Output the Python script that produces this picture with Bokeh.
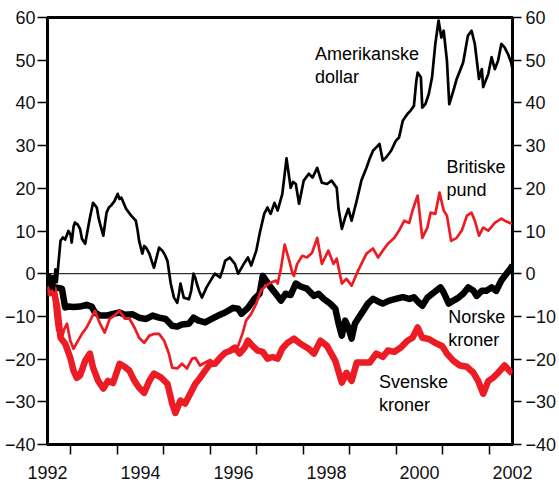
from bokeh.plotting import figure
from bokeh.models import FixedTicker, LinearAxis, Span, Label
from bokeh.embed import file_html
from bokeh.resources import INLINE

# ---------------- data ----------------
usd_x = [1992.00, 1992.03, 1992.07, 1992.10, 1992.13, 1992.17, 1992.20, 1992.24, 1992.28, 1992.33,
         1992.38, 1992.45, 1992.50, 1992.52, 1992.56, 1992.59, 1992.65, 1992.70, 1992.74, 1992.81,
         1992.86, 1992.91, 1992.98, 1993.06, 1993.10, 1993.13, 1993.20, 1993.24, 1993.27, 1993.32,
         1993.37, 1993.44, 1993.51, 1993.55, 1993.59, 1993.64, 1993.69, 1993.80, 1993.85, 1993.90,
         1993.94, 1993.97, 1994.04, 1994.08, 1994.12, 1994.19, 1994.24, 1994.29, 1994.35, 1994.40,
         1994.47, 1994.52, 1994.58, 1994.65, 1994.72, 1994.79, 1994.83, 1994.86, 1994.93, 1995.04,
         1995.09, 1995.14, 1995.18, 1995.21, 1995.26, 1995.32, 1995.42, 1995.53, 1995.60, 1995.71,
         1995.77, 1995.82, 1995.92, 1996.03, 1996.10, 1996.20, 1996.31, 1996.38, 1996.49, 1996.56,
         1996.66, 1996.73, 1996.80, 1996.88, 1996.95, 1997.05, 1997.14, 1997.23, 1997.28, 1997.34,
         1997.41, 1997.51, 1997.62, 1997.70, 1997.80, 1997.90, 1998.01, 1998.11, 1998.22, 1998.26,
         1998.33, 1998.40, 1998.47, 1998.54, 1998.65, 1998.75, 1998.86, 1998.93, 1999.00, 1999.07,
         1999.14, 1999.21, 1999.28, 1999.39, 1999.49, 1999.56, 1999.64, 1999.74, 1999.81, 1999.88,
         1999.93, 1999.96, 2000.03, 2000.06, 2000.13, 2000.20, 2000.27, 2000.34, 2000.41, 2000.47,
         2000.52, 2000.59, 2000.64, 2000.73, 2000.80, 2000.87, 2000.94, 2001.04, 2001.12, 2001.19,
         2001.28, 2001.34, 2001.37, 2001.48, 2001.55, 2001.62, 2001.69, 2001.76, 2001.83, 2001.90,
         2001.97, 2002.00]
usd_y = [0, -1, -4.5, -2, -4, 1, -2, 3, 7.7, 8.5,
         8, 10, 9, 7.3, 11, 12, 11.5, 10.5, 8.2, 7,
         10, 13, 16.6, 15.5, 13, 11.7, 8.9, 12, 14.3, 15.5,
         16, 17, 18.7, 17.5, 17.8, 16.5, 15.2, 13.6, 13, 12.4,
         10, 7.7, 4.7, 6.5, 6.1, 4.7, 3, 1.4, 4, 6.1,
         5.4, 4.5, 3, -2.3, -5.6, -6.8, -4.5, -2.3, -5.6, -6,
         -4, 0, -1, -2.3, -4, -5.6, -3.2, -1.2, 0, -0.9,
         1, 3, 3.8, 2.3, 0, 1.9, 3.8, 1.9, 5.4, 9.3,
         14, 15.5, 14, 16.6, 14.8, 18.7, 27, 20.1, 21.5, 21,
         16.4, 21.8, 23.4, 22.5, 24.8, 21.3, 21, 21.8, 20.1, 15.2,
         10.5, 13.1, 15.2, 12.4, 17.1, 21.8, 24.8, 27, 28.8, 29.6,
         30.4, 26.5, 27.2, 28.8, 31.1, 31.9, 35.8, 37.4, 38.2, 39.3,
         45, 47.1, 46, 38.9, 39.8, 42.1, 46, 53.8, 59.3, 55.3,
         56.9, 49.9, 39.7, 42.9, 45.6, 47.5, 49.5, 55.7, 56.9, 53.8,
         45.6, 47.9, 43.7, 46.8, 50.7, 47.9, 49.9, 53.8, 53, 51.5,
         49.5, 47.9]

gbp_x = [1992.00, 1992.05, 1992.10, 1992.13, 1992.17, 1992.21, 1992.26, 1992.31, 1992.36, 1992.42,
         1992.49, 1992.56, 1992.63, 1992.74, 1992.84, 1992.95, 1993.02, 1993.13, 1993.23, 1993.34,
         1993.44, 1993.55, 1993.66, 1993.76, 1993.87, 1993.97, 1994.08, 1994.19, 1994.29, 1994.40,
         1994.51, 1994.61, 1994.68, 1994.79, 1994.89, 1995.00, 1995.11, 1995.18, 1995.28, 1995.39,
         1995.50, 1995.60, 1995.71, 1995.82, 1995.92, 1996.03, 1996.10, 1996.20, 1996.27, 1996.38,
         1996.49, 1996.59, 1996.70, 1996.80, 1996.91, 1996.95, 1997.02, 1997.10, 1997.20, 1997.27,
         1997.30, 1997.37, 1997.48, 1997.58, 1997.69, 1997.80, 1997.90, 1998.04, 1998.15, 1998.22,
         1998.33, 1998.43, 1998.54, 1998.65, 1998.75, 1998.86, 1999.00, 1999.11, 1999.21, 1999.32,
         1999.46, 1999.56, 1999.67, 1999.78, 1999.85, 1999.96, 2000.06, 2000.17, 2000.24, 2000.34,
         2000.43, 2000.52, 2000.59, 2000.68, 2000.80, 2000.91, 2001.02, 2001.12, 2001.19, 2001.28,
         2001.37, 2001.48, 2001.62, 2001.76, 2001.87, 2001.99]
gbp_y = [-3, -4.5, -4, -5, -10, -13.3, -14, -15, -13, -11.7,
         -15.7, -17.6, -16.2, -14.1, -12.6, -10.3, -8.7, -11.7, -13.8, -10.5,
         -9.8, -8.7, -10.5, -10.5, -12.6, -15, -16.2, -14.5, -14.1, -14.1,
         -15.7, -18.7, -22, -22.2, -21.1, -22.2, -19.9, -19.7, -21.5, -20.8,
         -20.2, -21.1, -19.7, -18.5, -17.9, -18.2, -16.9, -13.8, -11, -9.4,
         -7, -4, -2.8, -2.1, -1.6, -2.3, 1.2, 6.8, 3, 0,
         -0.5, 2.3, 4.2, 3.8, 4.9, 8.4, 2.3, 5.4, 2.3, 3.5,
         -2.3, -1.2, -2.8, 0, 2.3, 4.7, 5.9, 3.8, 5.4, 7,
         8.4, 10.1, 12.4, 11.9, 14.8, 18.3, 8.4, 10.8, 14.3, 14,
         19, 14.8, 13.6, 7.7, 8.4, 10.1, 13.6, 14.3, 12.4, 8.9,
         10.8, 10.1, 11.9, 12.9, 12.2, 11.7]

nok_x = [1992.00, 1992.03, 1992.06, 1992.09, 1992.11, 1992.13, 1992.17, 1992.31, 1992.38, 1992.45,
         1992.56, 1992.70, 1992.84, 1992.95, 1993.02, 1993.13, 1993.27, 1993.41, 1993.55, 1993.66,
         1993.83, 1993.97, 1994.12, 1994.26, 1994.40, 1994.54, 1994.68, 1994.79, 1994.89, 1995.04,
         1995.14, 1995.25, 1995.39, 1995.53, 1995.67, 1995.82, 1995.99, 1996.10, 1996.17, 1996.31,
         1996.45, 1996.56, 1996.63, 1996.73, 1996.80, 1996.91, 1997.02, 1997.12, 1997.23, 1997.34,
         1997.44, 1997.58, 1997.73, 1997.83, 1997.94, 1998.08, 1998.19, 1998.26, 1998.33, 1998.40,
         1998.47, 1998.54, 1998.61, 1998.68, 1998.79, 1998.89, 1999.00, 1999.11, 1999.21, 1999.35,
         1999.49, 1999.64, 1999.78, 1999.88, 1999.99, 2000.06, 2000.17, 2000.31, 2000.45, 2000.52,
         2000.63, 2000.73, 2000.84, 2000.94, 2001.05, 2001.16, 2001.23, 2001.34, 2001.44, 2001.55,
         2001.65, 2001.76, 2001.87, 2001.97, 2002.00]
nok_y = [0, -2, -4.5, -1, -4, -3.5, -3.2, -3.5, -7.9, -7.7,
         -7.8, -7.7, -7.3, -7.7, -9.1, -9.8, -9.8, -9.4, -9.1, -9.6,
         -9.5, -10.3, -10.6, -9.8, -10.3, -10.6, -12.2, -12.4, -11.9, -11.7,
         -10.3, -11, -11.4, -10.6, -9.8, -9.1, -8, -8.2, -9.4, -8,
         -5.9, -4.7, -0.5, -2.1, -3.2, -4.7, -6.3, -4.7, -5, -2.3,
         -3, -3.5, -5.2, -4.7, -5.9, -7, -8.2, -11.7, -14.5, -11,
         -12.6, -15.2, -11.7, -10.5, -8.7, -7, -5.9, -6.5, -7, -6.3,
         -5.9, -5.5, -5.9, -5.5, -6.8, -7.5, -5.6, -4.4, -3.2, -4.4,
         -7, -6.3, -5.6, -4.7, -3.2, -4, -5.2, -4, -4, -3.2,
         -4, -1.6, 0, 1.4, 2]

sek_x = [1992.00, 1992.05, 1992.10, 1992.13, 1992.21, 1992.28, 1992.38, 1992.49, 1992.56, 1992.63,
         1992.70, 1992.81, 1992.91, 1992.98, 1993.09, 1993.20, 1993.30, 1993.41, 1993.55, 1993.66,
         1993.76, 1993.87, 1993.97, 1994.08, 1994.19, 1994.29, 1994.43, 1994.58, 1994.68, 1994.75,
         1994.86, 1994.96, 1995.07, 1995.18, 1995.28, 1995.39, 1995.50, 1995.60, 1995.71, 1995.82,
         1995.92, 1996.03, 1996.13, 1996.24, 1996.31, 1996.41, 1996.52, 1996.63, 1996.73, 1996.84,
         1996.95, 1997.05, 1997.16, 1997.30, 1997.44, 1997.62, 1997.73, 1997.87, 1998.01, 1998.19,
         1998.33, 1998.43, 1998.54, 1998.65, 1998.79, 1998.93, 1999.07, 1999.21, 1999.32, 1999.46,
         1999.60, 1999.74, 1999.85, 1999.96, 2000.06, 2000.20, 2000.34, 2000.49, 2000.59, 2000.73,
         2000.87, 2001.02, 2001.16, 2001.26, 2001.37, 2001.48, 2001.58, 2001.69, 2001.83, 2001.99]
sek_y = [-3, -4.5, -3.5, -3.5, -8, -15, -16.4, -19.7, -22.7, -24.4,
         -23.8, -20.4, -18.7, -22, -25.1, -26.9, -25.1, -25.6, -21.1, -21.8,
         -22.7, -25.1, -26.7, -27.9, -25.1, -23.4, -24.2, -25.8, -30.4, -32.6,
         -29.7, -30.4, -28.1, -25.8, -24.4, -22.7, -21.1, -21.1, -19.7, -18.5,
         -18.1, -17.3, -18.7, -17.3, -15.7, -16.9, -18, -18.3, -19.9, -19.5,
         -19.9, -17.5, -16.2, -15.2, -16.4, -17.6, -18.7, -15.7, -16.9, -20.4,
         -25.5, -23.2, -25.1, -20.8, -20.8, -20.8, -18.7, -19.5, -18, -18.3,
         -17.3, -15.7, -15, -12.6, -15, -15.3, -16.2, -17, -18.7, -20.4,
         -21.5, -21.8, -23.2, -25.1, -28.1, -25.1, -24.4, -23.2, -21.5, -23.4]

year_labels = [1992, 1994, 1996, 1998, 2000, 2002]
minor_years = [1992.5, 1993.5, 1994.5, 1995.5, 1996.5, 1997.5, 1998.5, 1999.5, 2000.5, 2001.5]
y_ticks = [-40, -30, -20, -10, 0, 10, 20, 30, 40, 50, 60]

labels = [
    ("Amerikanske\ndollar", 1997.75, 53.7),
    ("Britiske\npund", 2000.58, 27.3),
    ("Norske\nkroner", 2000.62, -7.9),
    ("Svenske\nkroner", 1999.13, -23.1),
]

RED = "#ed1c24"
FONT = "Liberation Sans"

# ---------------- figure ----------------
p = figure(width=559, height=485, x_range=(1992, 2002), y_range=(-40, 60),
           output_backend="svg", toolbar_location=None,
           min_border_left=47, min_border_right=41, min_border_top=17, min_border_bottom=41,
           x_axis_location="below", y_axis_location="left")
p.background_fill_color = "white"
p.border_fill_color = "white"
p.grid.visible = False
p.outline_line_color = "black"
p.outline_line_width = 3

def style_axis(ax):
    ax.axis_line_color = None
    ax.major_label_text_font = FONT
    ax.major_label_text_font_size = "18px"
    ax.major_label_text_color = "#111111"
    ax.major_tick_line_color = "black"
    ax.major_tick_line_width = 1.5
    ax.major_tick_in = 0
    ax.minor_tick_line_color = None

xa = p.xaxis[0]
xa.ticker = FixedTicker(ticks=year_labels, minor_ticks=minor_years)
style_axis(xa)
xa.major_tick_line_color = None
xa.major_tick_out = 10
xa.major_label_standoff = 11
xa.minor_tick_line_color = "black"
xa.minor_tick_line_width = 1.5
xa.minor_tick_in = 0
xa.minor_tick_out = 10

ya = p.yaxis[0]
ya.ticker = FixedTicker(ticks=y_ticks)
style_axis(ya)
ya.major_tick_out = 10
ya.major_label_standoff = 2

yr = LinearAxis(ticker=FixedTicker(ticks=y_ticks))
style_axis(yr)
yr.major_tick_out = 9
yr.major_label_standoff = 4
p.add_layout(yr, "right")

p.add_layout(Span(location=0, dimension="width", line_color="black", line_width=1, level="underlay"))

p.line(nok_x, nok_y, line_color="black", line_width=6.5, line_join="round")
p.line(sek_x, sek_y, line_color=RED, line_width=6.5, line_join="round")
p.line(usd_x, usd_y, line_color="black", line_width=2.7, line_join="round")
p.line(gbp_x, gbp_y, line_color=RED, line_width=2.7, line_join="round")

for txt, lx, ly in labels:
    p.add_layout(Label(x=lx, y=ly, text=txt, text_font=FONT, text_font_size="18px",
                       text_color="black", text_baseline="top", text_align="left",
                       text_line_height=1.15))

open("out.html", "w").write(file_html(p, INLINE))
